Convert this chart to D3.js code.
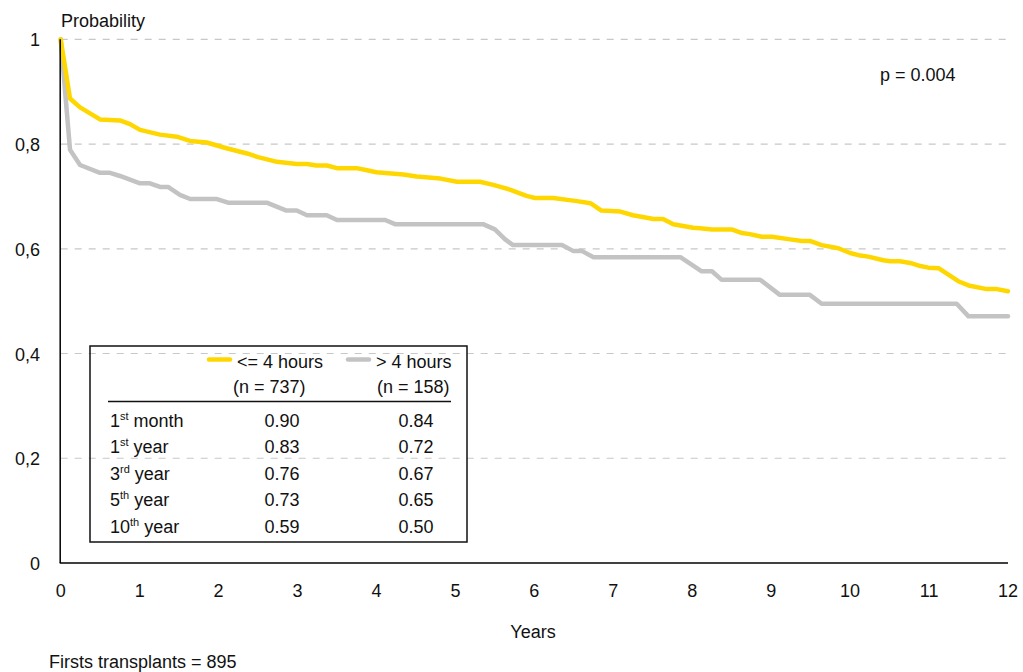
<!DOCTYPE html>
<html>
<head>
<meta charset="utf-8">
<script src="https://cdn.jsdelivr.net/npm/d3@7"></script>
<style>
  html, body { margin: 0; padding: 0; background: #fff; }
  svg text { font-family: "Liberation Sans", Arial, sans-serif; fill: #111; }
</style>
</head>
<body>
<script>
// chart size
var w = 1023;
var h = 672;

// curve data
var shortYears = [0, 0.118, 0.245, 0.498, 0.751, 0.878, 1.005, 1.258, 1.47, 1.638, 1.85, 2.10, 2.36, 2.50, 2.74, 2.99, 3.12, 3.24, 3.37, 3.50, 3.75, 3.88, 4.00, 4.34, 4.51, 4.81, 5.02, 5.31, 5.48, 5.69, 5.90, 6.01, 6.24, 6.54, 6.71, 6.85, 7.09, 7.25, 7.51, 7.63, 7.76, 8.01, 8.10, 8.25, 8.50, 8.63, 8.73, 8.88, 9.01, 9.24, 9.39, 9.49, 9.64, 9.85, 10.0, 10.13, 10.23, 10.42, 10.51, 10.63, 10.76, 10.89, 10.99, 11.12, 11.25, 11.37, 11.50, 11.73, 11.86, 12.0];
var shortProb = [1.0, 0.887, 0.870, 0.847, 0.845, 0.838, 0.827, 0.818, 0.814, 0.806, 0.803, 0.792, 0.782, 0.775, 0.766, 0.762, 0.762, 0.759, 0.759, 0.754, 0.754, 0.750, 0.746, 0.742, 0.738, 0.734, 0.728, 0.728, 0.722, 0.713, 0.701, 0.697, 0.697, 0.691, 0.687, 0.673, 0.671, 0.664, 0.657, 0.657, 0.647, 0.640, 0.639, 0.637, 0.637, 0.630, 0.628, 0.623, 0.623, 0.618, 0.615, 0.615, 0.607, 0.601, 0.592, 0.587, 0.585, 0.578, 0.576, 0.576, 0.573, 0.567, 0.564, 0.563, 0.550, 0.538, 0.530, 0.523, 0.523, 0.519];

var longYears = [0, 0.118, 0.245, 0.498, 0.625, 0.751, 1.005, 1.13, 1.258, 1.36, 1.51, 1.64, 1.98, 2.12, 2.61, 2.86, 2.99, 3.12, 3.37, 3.50, 4.11, 4.235, 5.35, 5.50, 5.63, 5.73, 6.35, 6.49, 6.60, 6.75, 7.85, 8.12, 8.25, 8.37, 8.86, 9.11, 9.49, 9.64, 11.35, 11.50, 12.0];
var longProb = [1.0, 0.789, 0.760, 0.745, 0.745, 0.739, 0.725, 0.725, 0.718, 0.718, 0.703, 0.695, 0.695, 0.688, 0.688, 0.673, 0.673, 0.664, 0.664, 0.655, 0.655, 0.647, 0.647, 0.637, 0.618, 0.607, 0.607, 0.596, 0.596, 0.584, 0.584, 0.557, 0.557, 0.541, 0.541, 0.512, 0.512, 0.495, 0.495, 0.471, 0.471];

// ticks
var xTicks = [0, 1, 2, 3, 4, 5, 6, 7, 8, 9, 10, 11, 12];
var yTicks = [0, 0.2, 0.4, 0.6, 0.8, 1];
var yTickLabels = ["0", "0,2", "0,4", "0,6", "0,8", "1"];

// legend / table
var seriesNames = ["<= 4 hours", "> 4 hours"];
var seriesCounts = ["(n = 737)", "(n = 158)"];
var rowNum = ["1", "1", "3", "5", "10"];
var rowSup = ["st", "st", "rd", "th", "th"];
var rowUnit = [" month", " year", " year", " year", " year"];
var shortRates = ["0.90", "0.83", "0.76", "0.73", "0.59"];
var longRates = ["0.84", "0.72", "0.67", "0.65", "0.50"];

var yellow = "#FFD700";
var grey = "#C3C3C3";

// scales
var x = d3.scaleLinear().domain([0, 12]).range([60.7, 1008]);
var y = d3.scaleLinear().domain([0, 1]).range([563, 39.3]);

var svg = d3.select("body").append("svg")
    .attr("width", w)
    .attr("height", h);

// gridlines
svg.selectAll("line.grid")
    .data(yTicks.filter(function (d) { return d > 0; }))
    .enter()
    .append("line")
    .attr("class", "grid")
    .attr("x1", x(0))
    .attr("x2", x(12))
    .attr("y1", function (d) { return y(d); })
    .attr("y2", function (d) { return y(d); })
    .style("stroke", "#c8c8c8")
    .style("stroke-width", 1.2)
    .style("stroke-dasharray", "7,7");

// curves
var line = d3.line()
    .x(function (d) { return x(d[0]); })
    .y(function (d) { return y(d[1]); });

var longData = longYears.map(function (t, i) { return [t, longProb[i]]; });
var shortData = shortYears.map(function (t, i) { return [t, shortProb[i]]; });

svg.append("path")
    .attr("d", line(longData))
    .style("fill", "none")
    .style("stroke", grey)
    .style("stroke-width", 4.5)
    .style("stroke-linejoin", "round")
    .style("stroke-linecap", "round");

svg.append("path")
    .attr("d", line(shortData))
    .style("fill", "none")
    .style("stroke", yellow)
    .style("stroke-width", 4.5)
    .style("stroke-linejoin", "round")
    .style("stroke-linecap", "round");

// axes lines
svg.append("line")
    .attr("x1", x(0) - 0.5).attr("x2", x(0) - 0.5)
    .attr("y1", y(1)).attr("y2", y(0))
    .style("stroke", "#000").style("stroke-width", 1.5);
svg.append("line")
    .attr("x1", x(0) - 1).attr("x2", x(12))
    .attr("y1", y(0)).attr("y2", y(0))
    .style("stroke", "#000").style("stroke-width", 1.5);

// tick labels
svg.selectAll("text.xt")
    .data(xTicks)
    .enter()
    .append("text")
    .attr("class", "xt")
    .attr("x", function (d) { return x(d); })
    .attr("y", 597)
    .attr("text-anchor", "middle")
    .attr("font-size", 18)
    .text(function (d) { return d; });

svg.selectAll("text.yt")
    .data(yTicks)
    .enter()
    .append("text")
    .attr("class", "yt")
    .attr("x", 40)
    .attr("y", function (d) { return y(d) + 7; })
    .attr("text-anchor", "end")
    .attr("font-size", 18)
    .text(function (d, i) { return yTickLabels[i]; });

// titles
svg.append("text").attr("x", 61).attr("y", 27).attr("font-size", 18).text("Probability");
svg.append("text").attr("x", 533).attr("y", 638).attr("text-anchor", "middle").attr("font-size", 18).text("Years");
svg.append("text").attr("x", 49).attr("y", 668).attr("font-size", 18).text("Firsts transplants = 895");
svg.append("text").attr("x", 880).attr("y", 81).attr("font-size", 18).text("p = 0.004");

// ———— legend table ———— //
var box = svg.append("g");
box.append("rect")
    .attr("x", 90).attr("y", 346)
    .attr("width", 377).attr("height", 196)
    .style("fill", "none")
    .style("stroke", "#111")
    .style("stroke-width", 1.5);

var colX = [[209, 233, 282], [348, 377, 416]]; // swatch start, text start, value centre
var swatchColors = [yellow, grey];
seriesNames.forEach(function (name, i) {
    box.append("line")
        .attr("x1", colX[i][0]).attr("x2", colX[i][0] + 21)
        .attr("y1", 359.5).attr("y2", 359.5)
        .style("stroke", swatchColors[i])
        .style("stroke-width", 4.5)
        .style("stroke-linecap", "round");
    box.append("text")
        .attr("x", colX[i][0] + 28).attr("y", 368)
        .attr("font-size", 18)
        .text(name);
    box.append("text")
        .attr("x", colX[i][1]).attr("y", 393)
        .attr("font-size", 18)
        .text(seriesCounts[i]);
});

box.append("line")
    .attr("x1", 108).attr("x2", 451)
    .attr("y1", 401.5).attr("y2", 401.5)
    .style("stroke", "#111")
    .style("stroke-width", 1.5);

var rowY = [427, 453, 480, 506, 533];
rowNum.forEach(function (n, i) {
    var t = box.append("text")
        .attr("x", 110).attr("y", rowY[i])
        .attr("font-size", 18);
    t.append("tspan").text(n);
    t.append("tspan").attr("font-size", 11).attr("dy", -7).text(rowSup[i]);
    t.append("tspan").attr("dy", 7).text(rowUnit[i]);

    box.append("text")
        .attr("x", colX[0][2]).attr("y", rowY[i])
        .attr("text-anchor", "middle")
        .attr("font-size", 18)
        .text(shortRates[i]);
    box.append("text")
        .attr("x", colX[1][2]).attr("y", rowY[i])
        .attr("text-anchor", "middle")
        .attr("font-size", 18)
        .text(longRates[i]);
});
</script>
</body>
</html>
